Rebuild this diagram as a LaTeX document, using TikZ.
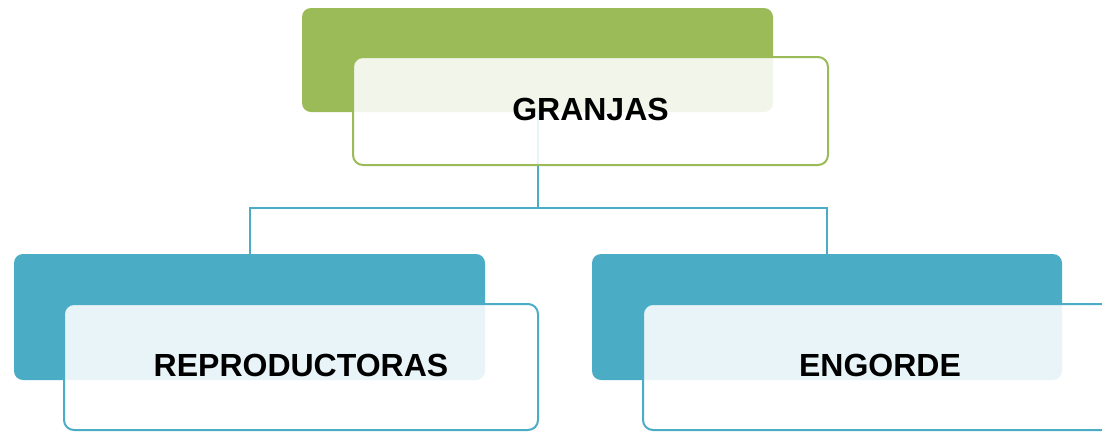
\documentclass[tikz,border=0pt]{standalone}
\usepackage{fontspec}
\setmainfont{Liberation Sans}
\definecolor{ogreen}{HTML}{9BBB59}
\definecolor{oblue}{HTML}{4BACC6}
\begin{document}
\begin{tikzpicture}[x=1pt,y=-1pt,
  backbox/.style={rounded corners=9pt, inner sep=0pt, minimum width=#1},
  frontbox/.style={draw, line width=2pt, fill=white, fill opacity=0.88, text opacity=1,
    rounded corners=10pt, inner sep=0pt, text depth=4pt, font=\fontsize{32}{38}\selectfont\bfseries},
  conn/.style={draw=oblue, line width=2pt}]
\useasboundingbox (0,0) rectangle (1102,432);
% back boxes
\node[backbox=471pt, fill=ogreen, minimum height=104pt] (gb) at (537.5,60) {};
\node[backbox=471pt, fill=oblue, minimum height=126pt] (lb) at (249.5,317) {};
\node[backbox=470pt, fill=oblue, minimum height=126pt] (rb) at (827,317) {};
% connectors
\coordinate (mid) at (537.5,208);
\draw[conn] (gb.south) -- (mid);
\draw[conn] (mid) -| ([yshift=-2pt]lb.north);
\draw[conn] (mid) -| ([yshift=-2pt]rb.north);
% front boxes
\node[frontbox, draw=ogreen, minimum width=475pt, minimum height=108pt] (gf) at (590.5,111) {GRANJAS};
\node[frontbox, draw=oblue, minimum width=474pt, minimum height=126pt] (lf) at (301,367) {REPRODUCTORAS};
\node[frontbox, draw=oblue, minimum width=474pt, minimum height=126pt] (rf) at (880,367) {ENGORDE};
\end{tikzpicture}
\end{document}
